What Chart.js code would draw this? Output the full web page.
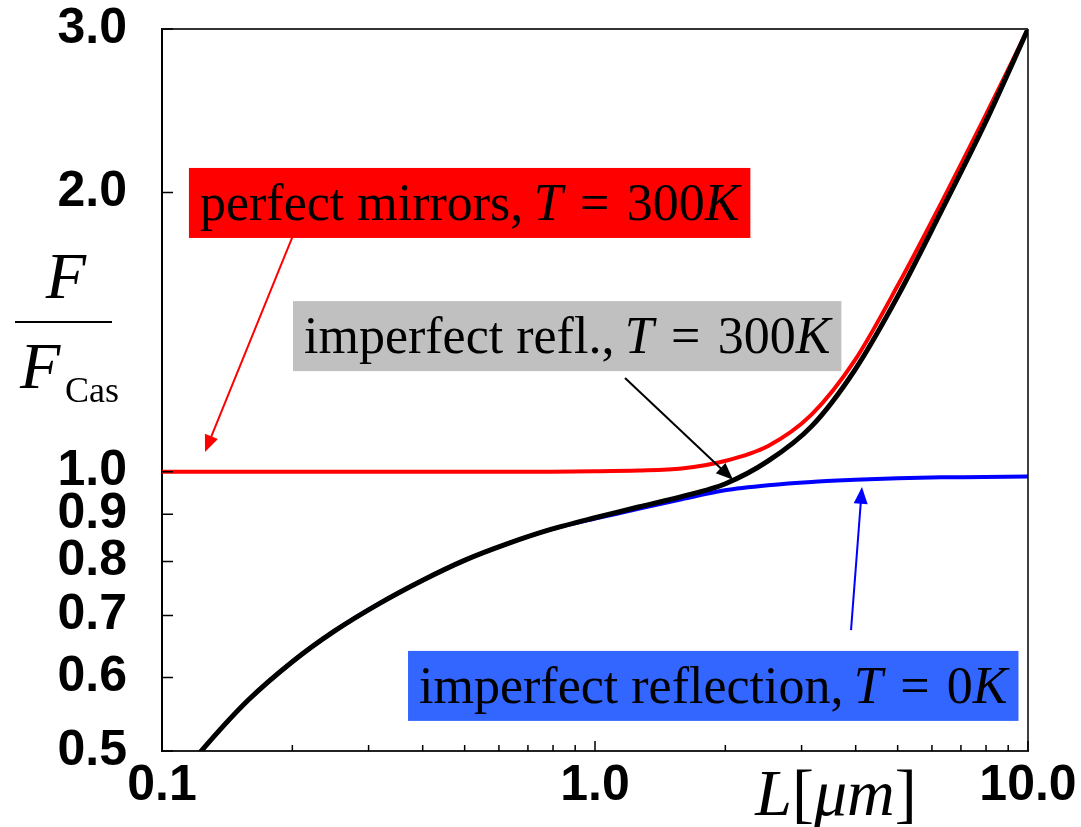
<!DOCTYPE html>
<html>
<head>
<meta charset="utf-8">
<script src="https://cdn.jsdelivr.net/npm/chart.js@4.4.1/dist/chart.umd.min.js"></script>
<style>
  html, body { margin: 0; padding: 0; background: #fff; }
  #casimirChart { display: block; }
</style>
</head>
<body>
<canvas id="casimirChart" width="1081" height="827"></canvas>
<script>
// plate separation L, in micrometres (ten steps per decade, every other one)
const separation = [0.1, 0.126, 0.158, 0.2, 0.251, 0.316, 0.398, 0.501, 0.631, 0.794, 1.0, 1.259, 1.585, 1.995, 2.512, 3.162, 3.981, 5.012, 6.31, 7.943, 10.0];

// force ratio F / F_Cas for each separation
const perfectMirrors300K = [1.0, 1.0, 1.0, 1.0, 1.0, 1.0, 1.0, 1.0, 1.0, 1.0, 1.001, 1.003, 1.008, 1.027, 1.066, 1.152, 1.318, 1.59, 1.95, 2.41, 3.0];
const imperfect300K      = [0.444, 0.506, 0.567, 0.624, 0.674, 0.720, 0.763, 0.803, 0.837, 0.867, 0.892, 0.916, 0.940, 0.970, 1.027, 1.119, 1.287, 1.548, 1.91, 2.37, 3.0];
const imperfect0K        = [0.444, 0.506, 0.567, 0.624, 0.674, 0.720, 0.763, 0.803, 0.837, 0.867, 0.890, 0.912, 0.934, 0.955, 0.967, 0.975, 0.980, 0.984, 0.986, 0.987, 0.988];

// axis ticks
const xTicks = [0.1, 0.2, 0.3, 0.4, 0.5, 0.6, 0.7, 0.8, 0.9, 1, 2, 3, 4, 5, 6, 7, 8, 9, 10];
const xMajor = [0.1, 1, 10];
const yTicks = [0.5, 0.6, 0.7, 0.8, 0.9, 1.0, 2.0, 3.0];

const serif = '"Liberation Serif", "Times New Roman", serif';
const sans = '"Liberation Sans", Arial, sans-serif';

// labelled boxes with arrows, placed in data units (L, F/F_Cas)
const notes = [
  {
    fill: '#ff0000', corner: [0.1154, 2.125],
    parts: [['perfect mirrors,', 0], ['\u2009', 0], ['T', 1], ['\u2004=\u2004', 0], ['300', 0], ['K', 1]],
    arrow: { from: [0.2, 1.79], to: [0.1257, 1.05], color: '#ff0000' }
  },
  {
    fill: '#c0c0c0', corner: [0.2007, 1.527],
    parts: [['imperfect refl.,', 0], ['\u2009', 0], ['T', 1], ['\u2004=\u2004', 0], ['300', 0], ['K', 1]],
    arrow: { from: [1.173, 1.262], to: [2.083, 0.98], color: '#000000' }
  },
  {
    fill: '#3366ff', corner: [0.37, 0.641],
    parts: [['imperfect reflection,', 0], ['\u2009', 0], ['T', 1], ['\u2004=\u2004', 0], ['0', 0], ['K', 1]],
    arrow: { from: [3.902, 0.675], to: [4.136, 0.963], color: '#0000ff' }
  }
];

function series(values) {
  return separation.map((x, i) => ({ x: x, y: values[i] }));
}

// draw a run of upright / italic pieces, returns total width
function richText(ctx, parts, x, y, size, measureOnly) {
  let w = 0;
  for (const [text, italic] of parts) {
    ctx.font = (italic ? 'italic ' : '') + size + 'px ' + serif;
    const tw = ctx.measureText(text).width;
    if (!measureOnly) ctx.fillText(text, x + w, y);
    w += tw;
  }
  return w;
}

function arrow(ctx, x0, y0, x1, y1, color) {
  const ang = Math.atan2(y1 - y0, x1 - x0);
  const len = 17, half = 7;
  ctx.save();
  ctx.strokeStyle = color;
  ctx.fillStyle = color;
  ctx.lineWidth = 2;
  ctx.beginPath();
  ctx.moveTo(x0, y0);
  ctx.lineTo(x1 - Math.cos(ang) * len * 0.8, y1 - Math.sin(ang) * len * 0.8);
  ctx.stroke();
  ctx.beginPath();
  ctx.moveTo(x1, y1);
  ctx.lineTo(x1 - Math.cos(ang) * len + Math.sin(ang) * half, y1 - Math.sin(ang) * len - Math.cos(ang) * half);
  ctx.lineTo(x1 - Math.cos(ang) * len - Math.sin(ang) * half, y1 - Math.sin(ang) * len + Math.cos(ang) * half);
  ctx.closePath();
  ctx.fill();
  ctx.restore();
}

const decorations = {
  id: 'decorations',
  afterDraw(chart) {
    const ctx = chart.ctx;
    const a = chart.chartArea;
    const sx = chart.scales.x, sy = chart.scales.y;

    // frame: top and right edges
    ctx.save();
    ctx.strokeStyle = '#333';
    ctx.lineWidth = 2;
    ctx.beginPath();
    ctx.moveTo(a.left, a.top);
    ctx.lineTo(a.right, a.top);
    ctx.stroke();
    ctx.strokeStyle = '#000';
    ctx.lineWidth = 1.5;
    ctx.beginPath();
    ctx.moveTo(a.right, a.top);
    ctx.lineTo(a.right, a.bottom);
    ctx.stroke();

    // inward tick marks
    ctx.lineWidth = 1.5;
    ctx.strokeStyle = '#000';
    ctx.beginPath();
    for (const v of yTicks) {
      const y = sy.getPixelForValue(v);
      ctx.moveTo(a.left, y);
      ctx.lineTo(a.left + 11, y);
    }
    for (const v of xTicks) {
      const x = sx.getPixelForValue(v);
      ctx.moveTo(x, a.bottom);
      ctx.lineTo(x, a.bottom - (xMajor.includes(v) ? 10 : 6));
    }
    ctx.stroke();

    // annotation boxes and arrows
    ctx.textBaseline = 'alphabetic';
    for (const n of notes) {
      const bx = sx.getPixelForValue(n.corner[0]);
      const by = sy.getPixelForValue(n.corner[1]);
      const tw = richText(ctx, n.parts, 0, 0, 52, true);
      ctx.fillStyle = n.fill;
      ctx.fillRect(bx, by, tw + 22, 70);
      ctx.fillStyle = '#000';
      richText(ctx, n.parts, bx + 11, by + 52, 52, false);
      arrow(ctx,
        sx.getPixelForValue(n.arrow.from[0]), sy.getPixelForValue(n.arrow.from[1]),
        sx.getPixelForValue(n.arrow.to[0]), sy.getPixelForValue(n.arrow.to[1]),
        n.arrow.color);
    }

    // y axis title: F / F_Cas
    ctx.fillStyle = '#000';
    ctx.font = 'italic 66px ' + serif;
    ctx.textAlign = 'center';
    ctx.fillText('F', 66, 298);
    ctx.textAlign = 'left';
    ctx.lineWidth = 2;
    ctx.beginPath();
    ctx.moveTo(15, 322);
    ctx.lineTo(112, 322);
    ctx.stroke();
    ctx.font = 'italic 66px ' + serif;
    ctx.fillText('F', 20, 388);
    ctx.font = '36px ' + serif;
    ctx.fillText('Cas', 65, 402);

    // x axis title: L[μm]
    const xParts = [['L', 1], ['[', 0], ['\u03bcm', 1], [']', 0]];
    const w = richText(ctx, xParts, 0, 0, 66, true);
    richText(ctx, xParts, 836 - w / 2, 815, 66, false);
    ctx.restore();
  }
};

new Chart(document.getElementById('casimirChart'), {
  type: 'line',
  data: {
    datasets: [
      { label: 'imperfect refl., T = 300K', data: series(imperfect300K), borderColor: '#000000', borderWidth: 5, order: 0 },
      { label: 'imperfect reflection, T = 0K', data: series(imperfect0K), borderColor: '#0000ff', borderWidth: 4, order: 1 },
      { label: 'perfect mirrors, T = 300K', data: series(perfectMirrors300K), borderColor: '#ff0000', borderWidth: 4, order: 2 }
    ]
  },
  options: {
    responsive: false,
    animation: false,
    layout: { padding: { left: 0, right: 53, top: 29, bottom: 0 } },
    elements: {
      point: { radius: 0 },
      line: { tension: 0.3, fill: false }
    },
    plugins: { legend: { display: false }, tooltip: { enabled: false } },
    scales: {
      x: {
        type: 'logarithmic',
        min: 0.1,
        max: 10,
        afterBuildTicks: s => { s.ticks = xTicks.map(v => ({ value: v })); },
        afterFit: s => { s.height = 76; s.paddingLeft = 0; s.paddingRight = 0; },
        ticks: {
          autoSkip: false,
          maxRotation: 0,
          padding: 10,
          color: '#000',
          font: { family: sans, weight: 'bold', size: 50, lineHeight: 1 },
          callback: v => xMajor.includes(v) ? v.toFixed(1) : ''
        },
        grid: { drawOnChartArea: false, drawTicks: false },
        border: { color: '#222', width: 2 }
      },
      y: {
        type: 'logarithmic',
        min: 0.5,
        max: 3,
        afterBuildTicks: s => { s.ticks = yTicks.map(v => ({ value: v })); },
        afterFit: s => { s.width = 162; s.paddingTop = 0; s.paddingBottom = 0; },
        ticks: {
          autoSkip: false,
          padding: 35,
          color: '#000',
          font: { family: sans, weight: 'bold', size: 50, lineHeight: 1 },
          callback: v => v.toFixed(1)
        },
        grid: { drawOnChartArea: false, drawTicks: false },
        border: { color: '#000', width: 2 }
      }
    }
  },
  plugins: [decorations]
});
</script>
</body>
</html>
